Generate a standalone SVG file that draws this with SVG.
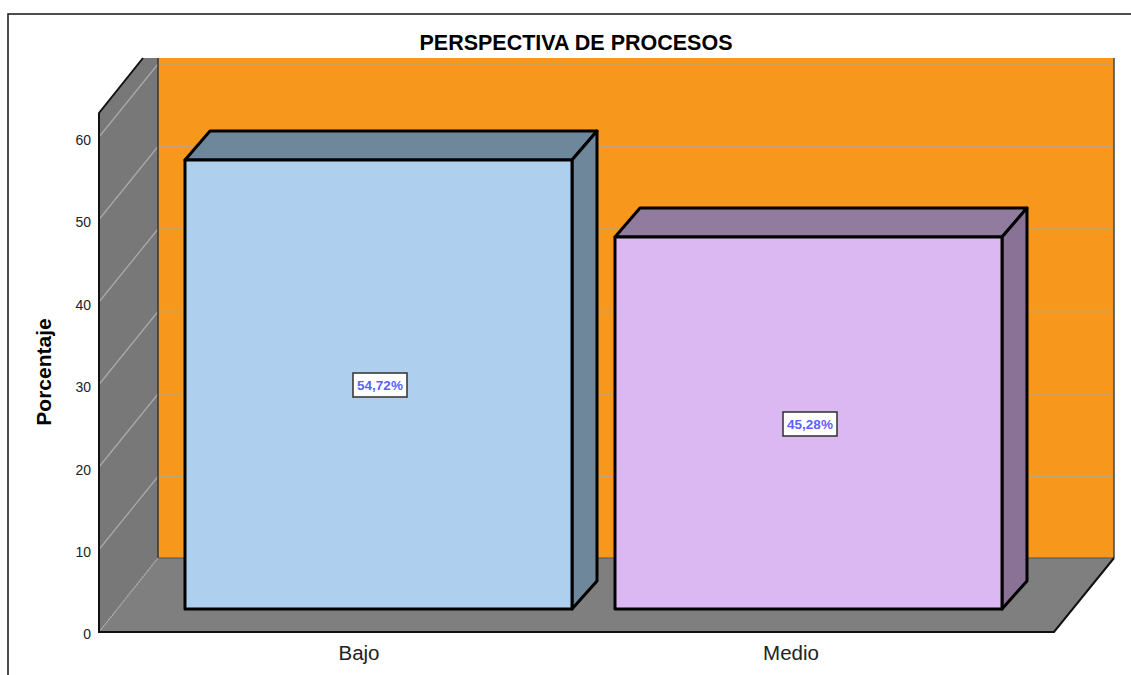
<svg xmlns="http://www.w3.org/2000/svg" width="1131" height="675" viewBox="0 0 1131 675">
  <style>
    .tick { font-family: "Liberation Sans", Arial, sans-serif; font-size: 14px; fill: #222; text-anchor: end; }
    .cat { font-family: "Liberation Sans", Arial, sans-serif; font-size: 20.5px; fill: #222; text-anchor: middle; }
    .title { font-family: "Liberation Sans", Arial, sans-serif; font-size: 21.5px; font-weight: bold; fill: #000; text-anchor: middle; }
    .ylab { font-family: "Liberation Sans", Arial, sans-serif; font-size: 21px; font-weight: bold; fill: #000; text-anchor: middle; }
    .val { font-family: "Liberation Sans", Arial, sans-serif; font-size: 13.5px; font-weight: bold; fill: #5f5fff; text-anchor: middle; }
    .vbox { fill: #fff; stroke: #3a3a3a; stroke-width: 1.6; }
    .bar { stroke: #000; stroke-width: 3; stroke-linejoin: round; }
    .bgrid { stroke: #c4a272; stroke-width: 1.5; fill: none; }
    .lgrid { stroke: #a9a9a9; stroke-width: 1.3; fill: none; }
  </style>
  <rect x="0" y="0" width="1131" height="675" fill="#fff"/>
  <rect x="8" y="14" width="1200" height="700" fill="none" stroke="#222" stroke-width="1.6"/>

  <g id="title">
    <text class="title" x="576" y="50">PERSPECTIVA DE PROCESOS</text>
  </g>

  <g id="walls">
    <rect x="158" y="58" width="956" height="500" fill="#f7981d"/>
    <polygon points="99,632 99,113 143,58 158,58 158,558" fill="#787878"/>
    <polygon points="99,632 158,558 1114,558 1054,632" fill="#7f7f7f"/>
    <g class="bgrid">
      <line x1="158" y1="64" x2="1114" y2="64"/>
      <line x1="158" y1="146.5" x2="1114" y2="146.5"/>
      <line x1="158" y1="229" x2="1114" y2="229"/>
      <line x1="158" y1="311.5" x2="1114" y2="311.5"/>
      <line x1="158" y1="394" x2="1114" y2="394"/>
      <line x1="158" y1="476.5" x2="1114" y2="476.5"/>
    </g>
    <g class="lgrid">
      <line x1="99" y1="137" x2="158" y2="64"/>
      <line x1="99" y1="219.5" x2="158" y2="146.5"/>
      <line x1="99" y1="302" x2="158" y2="229"/>
      <line x1="99" y1="384.5" x2="158" y2="311.5"/>
      <line x1="99" y1="467" x2="158" y2="394"/>
      <line x1="99" y1="549.5" x2="158" y2="476.5"/>
      <line x1="99" y1="632" x2="158" y2="558" stroke-dasharray="2 1"/>
    </g>
    <line x1="158" y1="58" x2="158" y2="558" stroke="#333" stroke-width="1.5"/>
    <line x1="158" y1="558" x2="1114" y2="558" stroke="#555" stroke-width="1.2"/>
    <line x1="1114" y1="58" x2="1114" y2="558" stroke="#444" stroke-width="1.5"/>
    <polyline points="143,58 99,113 99,632 1054,632 1114,558" fill="none" stroke="#111" stroke-width="2"/>
  </g>

  <g id="yaxis">
    <text class="tick" x="91" y="145">60</text>
    <text class="tick" x="91" y="227">50</text>
    <text class="tick" x="91" y="310">40</text>
    <text class="tick" x="91" y="392">30</text>
    <text class="tick" x="91" y="475">20</text>
    <text class="tick" x="91" y="557">10</text>
    <text class="tick" x="91" y="639">0</text>
    <text class="ylab" transform="translate(51,372) rotate(-90)">Porcentaje</text>
  </g>

  <g id="bar-bajo">
    <polygon class="bar" points="185,160 210,131 597,131 572,160" fill="#6e879b"/>
    <polygon class="bar" points="572,160 597,131 597,581 572,609" fill="#6e879b"/>
    <rect class="bar" x="185" y="160" width="387" height="449" fill="#aed0ee"/>
  </g>
  <g id="bar-medio">
    <polygon class="bar" points="615,237 640,208 1027,208 1002,237" fill="#917ca0"/>
    <polygon class="bar" points="1002,237 1027,208 1027,581 1002,609" fill="#8a7196"/>
    <rect class="bar" x="615" y="237" width="387" height="372" fill="#dcb8f2"/>
  </g>

  <g id="label-bajo">
    <rect class="vbox" x="353" y="373" width="54" height="24"/>
    <text class="val" x="380" y="390">54,72%</text>
  </g>
  <g id="label-medio">
    <rect class="vbox" x="783" y="412" width="54" height="24"/>
    <text class="val" x="810" y="429">45,28%</text>
  </g>

  <g id="categories">
    <text class="cat" x="359" y="660">Bajo</text>
    <text class="cat" x="791" y="660">Medio</text>
  </g>
</svg>
